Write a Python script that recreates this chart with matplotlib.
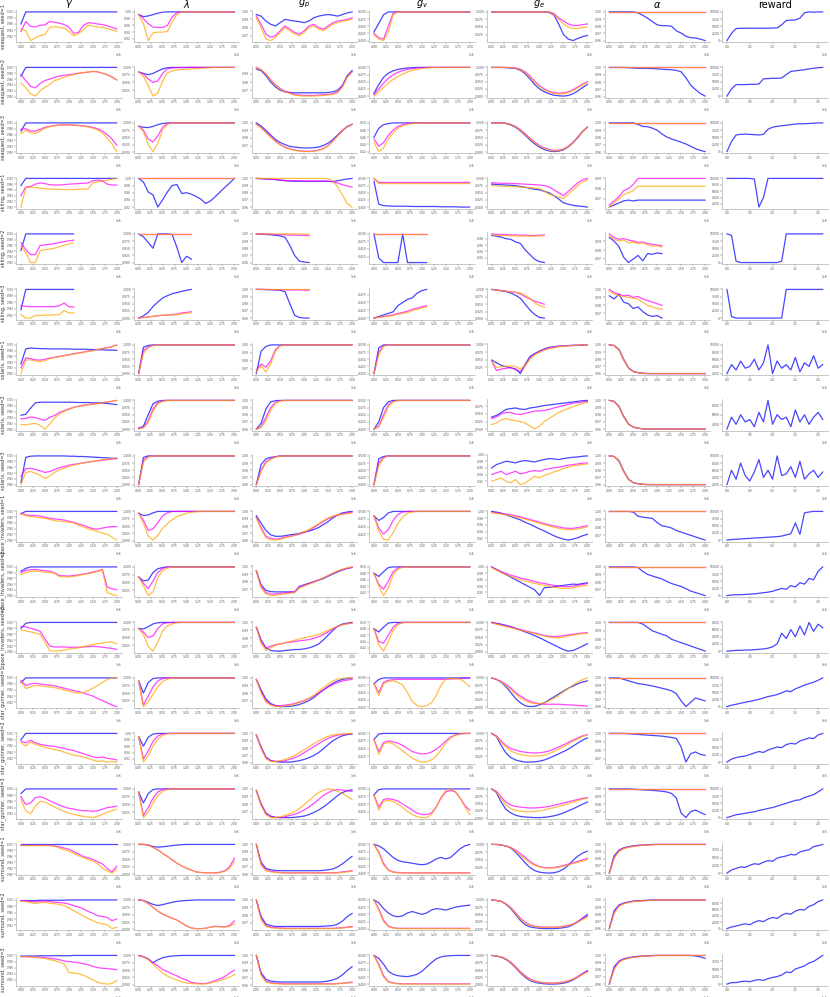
import matplotlib
matplotlib.use("Agg")
import matplotlib.pyplot as plt
from matplotlib.ticker import MultipleLocator

# training frames (x1e6) at which the curves were logged
FRAMES = [0.0, 0.1, 0.2, 0.3, 0.4, 0.5, 0.6, 0.7, 0.8, 0.9, 1.0,
          1.1, 1.2, 1.3, 1.4, 1.5, 1.6, 1.7, 1.8, 1.9, 2.0]
REWARD_FRAMES = FRAMES + [2.1]

ROW_LABELS = ["seaquest, seed=1", "seaquest, seed=2", "seaquest, seed=3",
              "skiing, seed=1", "skiing, seed=2", "skiing, seed=3",
              "solaris, seed=1", "solaris, seed=2", "solaris, seed=3",
              "space_invaders, seed=1", "space_invaders, seed=2", "space_invaders, seed=3",
              "star_gunner, seed=1", "star_gunner, seed=2", "star_gunner, seed=3",
              "surround, seed=1", "surround, seed=2", "surround, seed=3"]
COL_TITLES = [r"$\gamma$", r"$\lambda$", r"$g_p$", r"$g_v$", r"$g_e$", r"$\alpha$", "reward"]

# values in % of each panel's own range
GAMMA_B = [
    [60] + [100] * 20, [70] + [100] * 20, [72] + [100] * 20, [75] + [100] * 20,
    [42] + [100] * 11, [38] + [100] * 11,
    [34, 86, 89, 88, 87, 87, 86, 86, 86, 86, 86, 85, 85, 85, 84, 84, 83, 83, 82, 82, 81],
    [49, 52, 72, 90, 92, 92, 92, 92, 92, 92, 92, 92, 91, 91, 91, 90, 90, 89, 88, 86, 84],
    [7, 94, 98, 99, 99, 99, 99, 99, 99, 99, 98, 98, 97, 97, 96, 95, 94, 93, 92, 91, 90],
    [92] + [100] * 20, [85, 95] + [100] * 19, [80, 97] + [100] * 19,
    [85] + [100] * 20, [80] + [100] * 20, [85] + [100] * 20,
    [100] * 21,
    [98, 98, 98, 98, 99, 99, 99, 99, 99, 99] + [100] * 11,
    [98, 98, 98, 98, 99, 99, 99, 99, 99, 99, 99] + [100] * 10,
]
GAMMA_M = [
    [35, 68, 52, 50, 56, 57, 68, 66, 63, 58, 50, 29, 32, 55, 64, 63, 60, 58, 54, 49, 43],
    [75, 55, 35, 30, 45, 55, 60, 66, 70, 73, 75, 77, 80, 82, 84, 86, 85, 80, 75, 67, 57],
    [78, 80, 72, 72, 78, 85, 88, 91, 93, 93, 93, 92, 91, 90, 88, 85, 80, 72, 60, 45, 24],
    [40, 70, 72, 80, 84, 82, 78, 77, 77, 78, 80, 81, 82, 83, 84, 92, 94, 92, 80, 77, 77],
    [69, 45, 28, 28, 60, 62, 64, 66, 70, 73, 76, 78],
    [50, 48, 47, 47, 47, 47, 47, 47, 50, 58, 47, 46],
    [20, 55, 52, 48, 47, 50, 54, 57, 60, 63, 66, 69, 72, 75, 78, 81, 84, 87, 90, 94, 100],
    [37, 39, 43, 41, 36, 32, 42, 48, 58, 64, 70, 75, 79, 82, 84, 86, 88, 91, 93, 95, 98],
    [28, 55, 56, 52, 48, 42, 45, 52, 58, 62, 67, 70, 72, 75, 78, 80, 82, 84, 86, 88, 90],
    [94, 88, 86, 86, 84, 80, 76, 74, 72, 70, 66, 62, 56, 52, 45, 40, 38, 42, 45, 47, 47],
    [80, 88, 90, 91, 89, 87, 85, 80, 70, 69, 68, 70, 72, 75, 78, 82, 86, 91, 30, 24, 20],
    [86, 85, 80, 76, 70, 45, 20, 17, 17, 17, 16, 16, 16, 17, 18, 19, 18, 16, 14, 12, 9],
    [92, 75, 80, 82, 80, 78, 76, 74, 70, 66, 62, 58, 55, 50, 45, 40, 32, 25, 18, 10, 5],
    [75, 70, 78, 70, 65, 62, 60, 58, 55, 52, 48, 45, 40, 35, 30, 25, 22, 25, 20, 18, 15],
    [75, 50, 55, 72, 75, 70, 62, 55, 48, 42, 38, 35, 32, 30, 30, 28, 30, 35, 40, 42, 45],
    [97, 97, 97, 97, 97, 97, 97, 95, 92, 88, 84, 76, 68, 60, 55, 50, 42, 35, 20, 8, 27],
    [98, 97, 95, 94, 96, 96, 95, 93, 92, 90, 87, 82, 78, 72, 64, 58, 50, 48, 45, 35, 40],
    [96, 96, 96, 95, 94, 93, 91, 89, 86, 82, 80, 78, 76, 73, 70, 64, 60, 58, 57, 55, 53],
]
GAMMA_O = [
    [43, 38, 5, 14, 22, 25, 49, 51, 49, 46, 35, 21, 28, 40, 56, 53, 50, 49, 45, 40, 35],
    [46, 30, 10, 2, 20, 32, 42, 55, 60, 66, 72, 75, 80, 82, 84, 86, 85, 80, 75, 67, 57],
    [63, 75, 66, 64, 72, 82, 87, 90, 93, 94, 94, 93, 91, 89, 86, 82, 76, 66, 48, 28, 2],
    [0, 67, 69, 68, 66, 64, 63, 62, 62, 61, 61, 61, 62, 63, 63, 85, 88, 90, 94, 97, 100],
    [58, 35, 0, 0, 42, 45, 47, 50, 55, 60, 65, 69],
    [23, 12, 12, 20, 20, 21, 21, 22, 22, 35, 28, 28],
    [0, 47, 48, 43, 42, 45, 52, 56, 59, 62, 65, 68, 71, 74, 77, 80, 84, 87, 90, 94, 100],
    [18, 17, 20, 22, 15, 3, 20, 40, 52, 62, 68, 75, 78, 81, 83, 85, 88, 90, 93, 95, 98],
    [0, 42, 45, 40, 32, 21, 30, 42, 50, 56, 63, 67, 71, 74, 77, 80, 83, 86, 88, 90, 92],
    [92, 85, 82, 80, 78, 76, 72, 68, 66, 64, 63, 60, 52, 46, 40, 35, 30, 25, 20, 10, 0],
    [73, 80, 84, 86, 84, 82, 80, 78, 66, 66, 65, 67, 70, 73, 76, 80, 84, 90, 10, 4, 0],
    [74, 71, 68, 64, 59, 34, 4, 3, 4, 6, 10, 12, 14, 18, 22, 25, 28, 30, 33, 34, 28],
    [88, 65, 70, 75, 74, 72, 70, 68, 64, 60, 56, 52, 50, 52, 58, 66, 75, 85, 95, 100, 100],
    [70, 60, 72, 65, 60, 55, 52, 48, 45, 40, 35, 30, 28, 25, 20, 15, 10, 12, 8, 10, 8],
    [65, 30, 20, 45, 60, 58, 50, 42, 35, 28, 22, 18, 15, 12, 10, 8, 12, 18, 25, 30, 35],
    [96, 96, 96, 96, 96, 96, 96, 94, 88, 82, 78, 70, 62, 56, 50, 44, 36, 20, 12, 4, 17],
    [96, 95, 91, 89, 91, 92, 90, 88, 86, 82, 75, 66, 58, 50, 42, 35, 28, 25, 22, 10, 14],
    [96, 96, 95, 94, 92, 90, 86, 83, 78, 72, 45, 42, 40, 35, 28, 20, 12, 8, 6, 8, 18],
]

LAMBDA_B = [
    [92, 86, 88, 92, 96, 99] + [100] * 15,
    [85, 80, 76, 80, 88, 95, 99] + [100] * 14,
    [89, 85, 84, 88, 94, 98] + [100] * 15,
    [100, 90, 62, 54, 20, 40, 62, 80, 83, 58, 60, 56, 50, 42, 30, 37, 49, 62, 75, 87, 100],
    [100, 90, 70, 50, 100, 100, 100, 98, 53, 0, 22, 12],
    [0, 8, 20, 40, 56, 70, 78, 85, 89, 93, 97, 100],
    [0, 92, 98] + [100] * 18,
    [3, 10, 50, 88, 97] + [100] * 16,
    [0, 95] + [100] * 19,
    [94, 86, 88, 95] + [100] * 17,
    [68, 55, 58, 82, 94, 98] + [100] * 15,
    [80, 78, 86, 95, 99] + [100] * 16,
    [90, 50, 85, 98] + [100] * 17,
    [90, 60, 88, 98] + [100] * 17,
    [90, 55, 85, 98] + [100] * 17,
    [100, 100, 98, 93, 91, 92, 94, 96, 98, 99] + [100] * 11,
    [100, 98, 92, 85, 81, 84, 88, 92, 95, 97, 98, 99] + [100] * 9,
    [100, 95, 88, 75, 85, 92, 96, 98, 99] + [100] * 12,
]
LAMBDA_M = [
    [92, 80, 65, 55, 54, 54, 60, 85, 98] + [100] * 12,
    [85, 78, 62, 50, 55, 80, 95, 98, 99, 99] + [100] * 11,
    [89, 75, 45, 35, 55, 85, 98] + [100] * 14,
    [100] * 21,
    [100] * 12,
    [0, 2, 4, 6, 8, 10, 11, 12, 14, 18, 20, 22],
    [0, 80, 93, 99] + [100] * 17,
    [3, 5, 30, 70, 92, 98] + [100] * 15,
    [0, 85, 98] + [100] * 18,
    [94, 70, 35, 40, 62, 85, 95] + [100] * 14,
    [68, 48, 30, 55, 82, 95] + [100] * 15,
    [80, 68, 50, 55, 80, 95, 99] + [100] * 14,
    [90, 10, 40, 70, 90, 98] + [100] * 15,
    [90, 20, 45, 75, 92, 98] + [100] * 15,
    [90, 15, 40, 70, 90, 98] + [100] * 15,
    [100, 100, 99, 90, 82, 70, 60, 48, 37, 28, 20, 14, 8, 6, 5, 5, 5, 7, 12, 25, 54],
    [100, 98, 88, 75, 62, 52, 45, 38, 32, 22, 12, 5, 3, 3, 4, 8, 11, 10, 9, 14, 29],
    [100, 96, 88, 75, 65, 52, 45, 37, 30, 22, 16, 8, 5, 4, 4, 8, 14, 20, 28, 40, 50],
]
LAMBDA_O = [
    [92, 65, 15, 38, 40, 40, 42, 70, 92] + [100] * 12,
    [85, 70, 40, 5, 15, 55, 82, 88, 91, 93, 94, 95, 96, 97, 98, 99] + [100] * 5,
    [89, 70, 25, 2, 30, 75, 95] + [100] * 14,
    [100] * 21,
    [100] * 12,
    [0, 2, 4, 6, 8, 9, 10, 11, 12, 15, 17, 18],
    [0, 70, 90, 98] + [100] * 17,
    [0, 5, 22, 62, 88, 97] + [100] * 15,
    [0, 78, 96] + [100] * 18,
    [94, 60, 15, 2, 18, 42, 58, 72, 82, 88, 94, 97, 99] + [100] * 8,
    [68, 40, 8, 20, 65, 88, 96] + [100] * 14,
    [80, 60, 20, 5, 35, 72, 88, 95, 99] + [100] * 12,
    [90, 5, 20, 45, 70, 88, 96] + [100] * 14,
    [90, 10, 30, 60, 82, 94, 99] + [100] * 14,
    [90, 8, 25, 55, 78, 92, 98] + [100] * 14,
    [100, 100, 99, 90, 82, 70, 60, 48, 37, 28, 20, 14, 8, 6, 5, 5, 4, 6, 10, 20, 43],
    [100, 98, 88, 75, 62, 52, 45, 38, 32, 22, 12, 5, 3, 3, 4, 8, 10, 9, 8, 11, 19],
    [100, 95, 86, 70, 55, 40, 30, 22, 16, 10, 6, 4, 3, 2, 3, 6, 10, 14, 20, 26, 34],
]

GP_B = [
    [90, 85, 70, 60, 55, 65, 75, 72, 70, 68, 65, 70, 80, 85, 88, 90, 88, 85, 90, 95, 98],
    [90, 85, 70, 50, 35, 25, 20, 18, 17, 17, 17, 17, 17, 17, 17, 18, 20, 25, 40, 70, 85],
    [100, 90, 75, 60, 45, 35, 28, 22, 20, 18, 17, 17, 18, 20, 25, 33, 45, 60, 75, 88, 95],
    [100, 99, 98, 97, 96, 94, 92, 91, 90, 90, 90, 90, 90, 90, 90, 90, 89, 92, 95, 98, 100],
    [100, 99, 98, 97, 95, 93, 88, 60, 25, 5, 2, 0],
    [100, 100, 99, 99, 98, 97, 92, 50, 10, 2, 0, 0],
    [10, 80, 95] + [100] * 18,
    [0, 20, 70, 95, 99] + [100] * 16,
    [0, 70, 90, 95, 97] + [100] * 16,
    [85, 60, 35, 20, 15, 15, 17, 20, 22, 25, 30, 33, 38, 45, 55, 65, 78, 88, 95, 98, 100],
    [85, 40, 22, 18, 17, 17, 17, 17, 16, 35, 40, 45, 50, 55, 60, 68, 75, 82, 88, 93, 96],
    [85, 45, 20, 12, 10, 10, 12, 13, 15, 15, 17, 20, 25, 32, 45, 60, 75, 88, 95, 98, 100],
    [95, 60, 30, 15, 8, 5, 5, 6, 8, 12, 18, 25, 35, 48, 60, 72, 82, 90, 95, 98, 100],
    [95, 55, 20, 8, 5, 3, 3, 3, 5, 8, 12, 18, 25, 35, 48, 62, 75, 85, 92, 96, 98],
    [95, 50, 20, 10, 6, 5, 5, 5, 6, 8, 10, 15, 22, 30, 40, 52, 65, 78, 88, 94, 97],
    [100, 40, 20, 15, 13, 12, 12, 12, 12, 12, 12, 12, 12, 12, 13, 15, 18, 25, 35, 48, 60],
    [100, 45, 20, 15, 12, 12, 12, 12, 12, 12, 12, 12, 12, 12, 13, 14, 15, 20, 30, 45, 55],
    [100, 42, 20, 14, 12, 11, 11, 11, 11, 11, 11, 11, 11, 11, 12, 14, 18, 24, 35, 50, 62],
]
GP_M = [
    [85, 60, 30, 20, 25, 40, 55, 45, 35, 30, 40, 55, 60, 50, 45, 55, 65, 70, 72, 75, 80],
    [95, 88, 75, 57, 42, 30, 22, 17, 12, 10, 9, 9, 9, 10, 11, 12, 14, 20, 37, 67, 82],
    [95, 85, 70, 55, 40, 28, 20, 14, 10, 8, 6, 6, 7, 10, 15, 25, 40, 58, 75, 88, 95],
    [100, 99, 98, 97, 96, 94, 93, 92, 92, 92, 91, 91, 91, 91, 91, 90, 88, 84, 78, 73, 70],
    [100, 100, 99, 99, 98, 97, 97, 96, 96, 95, 95, 94],
    [100, 100, 100, 99, 99, 99, 99, 98, 98, 98, 97, 97],
    [20, 40, 30, 50, 85, 98] + [100] * 15,
    [0, 8, 40, 75, 93, 99] + [100] * 15,
    [0, 50, 80, 90, 97] + [100] * 16,
    [80, 45, 15, 8, 5, 8, 12, 15, 18, 22, 28, 35, 45, 55, 65, 75, 82, 88, 92, 95, 97],
    [85, 35, 15, 10, 10, 12, 14, 16, 18, 32, 38, 44, 50, 56, 62, 70, 77, 84, 90, 94, 97],
    [85, 40, 20, 25, 30, 33, 36, 38, 40, 42, 44, 46, 50, 55, 62, 70, 80, 88, 93, 96, 98],
    [95, 55, 25, 12, 8, 8, 10, 12, 15, 20, 25, 32, 40, 50, 60, 70, 78, 85, 90, 93, 95],
    [95, 50, 18, 8, 5, 5, 8, 12, 18, 25, 35, 45, 55, 65, 75, 83, 90, 94, 97, 98, 99],
    [95, 50, 18, 8, 5, 5, 8, 12, 16, 22, 30, 40, 52, 65, 78, 88, 95, 98, 96, 94, 92],
    [100, 35, 15, 10, 8, 6, 5, 5, 5, 5, 5, 5, 5, 5, 5, 5, 5, 6, 8, 10, 12],
    [100, 40, 15, 10, 8, 7, 6, 6, 6, 6, 6, 6, 6, 6, 6, 6, 6, 7, 8, 10, 12],
    [100, 38, 14, 9, 7, 6, 5, 5, 5, 5, 5, 5, 5, 5, 5, 5, 5, 6, 7, 9, 11],
]
GP_O = [
    [80, 50, 15, 10, 20, 35, 50, 40, 30, 25, 35, 50, 55, 45, 40, 50, 60, 65, 70, 72, 75],
    [95, 88, 75, 55, 40, 28, 20, 15, 10, 8, 7, 7, 7, 8, 9, 10, 12, 18, 35, 65, 80],
    [95, 84, 68, 53, 38, 27, 19, 13, 9, 7, 5, 5, 6, 9, 14, 24, 39, 57, 74, 87, 95],
    [100] * 15 + [99, 92, 70, 42, 12, 0],
    [100] * 10 + [99, 99],
    [100] * 12,
    [15, 35, 15, 40, 80, 97] + [100] * 15,
    [0, 5, 30, 65, 90, 98] + [100] * 15,
    [0, 45, 75, 88, 96, 99] + [100] * 15,
    [78, 40, 10, 3, 2, 5, 10, 14, 18, 24, 30, 38, 48, 58, 68, 78, 84, 88, 90, 92, 95],
    [85, 30, 10, 5, 6, 8, 10, 12, 15, 30, 36, 42, 48, 55, 62, 70, 78, 85, 90, 95, 98],
    [85, 35, 12, 20, 28, 32, 36, 40, 44, 48, 52, 55, 58, 62, 68, 75, 82, 88, 93, 96, 98],
    [95, 50, 20, 10, 5, 5, 7, 10, 13, 18, 24, 32, 42, 55, 68, 80, 90, 96, 99, 100, 100],
    [95, 50, 15, 5, 5, 8, 12, 18, 25, 35, 45, 55, 65, 75, 83, 90, 95, 97, 98, 99, 100],
    [95, 45, 15, 5, 5, 8, 12, 18, 25, 35, 48, 62, 75, 88, 96, 100, 98, 92, 85, 75, 65],
    [100, 30, 12, 8, 6, 5, 4, 4, 4, 4, 4, 4, 4, 4, 4, 4, 4, 5, 6, 8, 10],
    [100, 35, 12, 8, 6, 5, 5, 5, 5, 5, 5, 5, 5, 5, 5, 5, 5, 6, 7, 9, 10],
    [100, 33, 11, 7, 5, 4, 4, 4, 4, 4, 4, 4, 4, 4, 4, 4, 4, 5, 6, 8, 9],
]

GV_B = [
    [30, 60, 90] + [100] * 18,
    [10, 40, 65, 80, 88, 93, 96, 98, 99] + [100] * 12,
    [60, 85, 95, 98] + [100] * 17,
    [90, 10, 5, 4, 3, 3, 3, 3, 2, 2, 2, 2, 2, 2, 1, 1, 1, 1, 0, 0, 0],
    [100, 20, 5, 5, 5, 5, 100, 5, 5, 5, 5, 5],
    [0, 5, 10, 15, 20, 40, 50, 60, 65, 80, 88, 92],
    [0, 90] + [100] * 19,
    [0, 25, 75, 95] + [100] * 17,
    [0, 90, 98] + [100] * 18,
    [85, 70, 80, 95] + [100] * 17,
    [80, 70, 85, 98] + [100] * 17,
    [80, 70, 85, 98] + [100] * 17,
    [80, 95] + [100] * 19,
    [80, 98] + [100] * 19,
    [80, 98] + [100] * 19,
    [100, 95, 85, 70, 55, 45, 40, 38, 35, 32, 30, 32, 40, 50, 55, 50, 55, 70, 85, 95, 100],
    [100, 90, 70, 55, 45, 42, 45, 55, 60, 55, 50, 55, 65, 70, 68, 65, 70, 75, 78, 80, 82],
    [100, 90, 70, 45, 35, 30, 28, 27, 30, 35, 45, 60, 75, 88, 95, 98, 99, 100, 100, 100, 100],
]
GV_M = [
    [25, 10, 5, 50, 95] + [100] * 16,
    [5, 25, 45, 62, 74, 83, 89, 93, 96, 98, 99] + [100] * 10,
    [55, 35, 45, 65, 80, 90, 95, 98, 99] + [100] * 12,
    [100] + [86] * 20,
    [100] * 12,
    [0, 3, 5, 8, 10, 15, 18, 22, 28, 32, 36, 40],
    [0, 75, 97] + [100] * 18,
    [0, 10, 50, 85, 97] + [100] * 16,
    [0, 75, 95] + [100] * 18,
    [85, 45, 25, 40, 70, 90, 98] + [100] * 14,
    [80, 45, 30, 55, 85, 97] + [100] * 15,
    [80, 40, 35, 60, 85, 97] + [100] * 15,
    [80, 50, 85, 92, 94] + [95] * 11 + [96, 97, 98, 99, 100],
    [80, 40, 70, 75, 72, 68, 60, 50, 40, 35, 32, 33, 38, 48, 60, 75, 88, 95, 98, 100, 100],
    [80, 40, 65, 68, 65, 60, 50, 40, 30, 20, 15, 15, 20, 40, 70, 90, 95, 90, 70, 45, 30],
    [100, 75, 35, 12, 5, 3] + [2] * 15,
    [100, 70, 30, 10, 4] + [2] * 16,
    [100, 70, 30, 10, 5, 3] + [2] * 15,
]
GV_O = [
    [20, 5, 0, 30, 90] + [100] * 16,
    [0, 15, 30, 45, 58, 68, 77, 84, 89, 93, 96, 98, 99] + [100] * 8,
    [45, 20, 30, 55, 72, 85, 92, 96, 98, 99] + [100] * 11,
    [100] + [82] * 20,
    [100] * 12,
    [0, 2, 4, 6, 8, 12, 15, 18, 24, 28, 32, 36],
    [0, 65, 95] + [100] * 18,
    [0, 8, 40, 78, 95] + [100] * 16,
    [0, 65, 92] + [100] * 18,
    [85, 35, 8, 5, 30, 60, 82, 94, 98] + [100] * 12,
    [80, 40, 10, 35, 75, 93, 99] + [100] * 14,
    [80, 30, 10, 40, 75, 93, 99] + [100] * 14,
    [80, 40, 80, 88, 90, 85, 75, 50, 20, 5, 2, 5, 15, 40, 75, 95, 98, 98, 96, 85, 70],
    [80, 30, 65, 70, 65, 55, 42, 30, 18, 10, 5, 6, 12, 25, 45, 68, 85, 95, 99, 100, 100],
    [80, 30, 60, 62, 58, 50, 38, 25, 15, 8, 5, 5, 15, 40, 72, 95, 100, 92, 70, 40, 15],
    [100, 70, 30, 10, 4, 2] + [1] * 15,
    [100, 65, 25, 8, 3] + [1] * 16,
    [100, 65, 25, 8, 3, 2] + [1] * 15,
]

GE_B = [
    [100] * 12 + [98, 90, 60, 25, 10, 5, 12, 18, 22],
    [100, 100, 100, 99, 98, 96, 90, 78, 60, 40, 25, 15, 8, 3, 1, 0, 2, 8, 18, 30, 40],
    [100, 100, 100, 98, 93, 85, 73, 58, 42, 28, 17, 9, 4, 2, 3, 8, 18, 32, 50, 70, 85],
    [80, 79, 78, 77, 76, 75, 72, 69, 66, 62, 60, 55, 50, 40, 28, 15, 10, 6, 4, 2, 0],
    [90, 88, 85, 80, 78, 70, 65, 45, 30, 15, 8, 5],
    [100, 98, 95, 93, 88, 80, 70, 50, 30, 15, 5, 3],
    [49, 40, 32, 27, 24, 20, 5, 35, 60, 70, 78, 85, 90, 92, 94, 95, 96, 97, 97, 98, 98],
    [40, 45, 55, 65, 68, 70, 66, 65, 70, 72, 75, 78, 80, 82, 84, 86, 88, 90, 92, 94, 95],
    [60, 70, 75, 80, 78, 75, 80, 82, 80, 78, 82, 85, 88, 87, 85, 88, 90, 92, 93, 95, 96],
    [100, 98, 95, 90, 85, 80, 75, 68, 62, 55, 48, 42, 35, 28, 22, 18, 15, 18, 22, 28, 32],
    [100, 92, 84, 76, 68, 60, 52, 44, 36, 28, 10, 35, 36, 38, 40, 42, 44, 46, 45, 48, 50],
    [100, 97, 94, 90, 86, 80, 74, 68, 62, 55, 48, 40, 32, 24, 16, 8, 3, 5, 12, 20, 28],
    [100, 95, 85, 70, 50, 30, 15, 5, 2, 3, 8, 15, 25, 35, 45, 55, 65, 72, 80, 86, 90],
    [100, 90, 60, 35, 20, 12, 8, 5, 5, 6, 8, 12, 18, 25, 32, 40, 48, 58, 68, 78, 85],
    [100, 88, 55, 30, 18, 10, 6, 4, 3, 2, 2, 3, 5, 8, 12, 18, 25, 32, 40, 48, 55],
    [100, 100, 98, 95, 88, 75, 58, 40, 25, 15, 10, 8, 7, 8, 12, 20, 32, 48, 62, 72, 78],
    [100, 98, 95, 85, 70, 50, 30, 15, 8, 5, 3, 2, 2, 2, 3, 5, 8, 15, 25, 38, 50],
    [100, 98, 94, 86, 74, 58, 40, 25, 14, 8, 5, 3, 2, 2, 3, 5, 9, 16, 26, 38, 48],
]
GE_M = [
    [100] * 13 + [95, 80, 70, 60, 55, 55, 58, 60],
    [100, 100, 100, 100, 99, 98, 94, 85, 70, 52, 36, 25, 17, 12, 10, 11, 15, 22, 32, 42, 50],
    [100, 100, 100, 99, 95, 88, 77, 63, 48, 34, 23, 15, 9, 6, 7, 11, 20, 34, 52, 71, 86],
    [85, 84, 83, 83, 82, 82, 81, 80, 79, 78, 77, 75, 70, 60, 50, 40, 55, 70, 85, 95, 100],
    [95, 94, 93, 93, 92, 92, 91, 91, 90, 90, 91, 92],
    [100, 98, 96, 94, 92, 90, 85, 75, 68, 60, 55, 50],
    [46, 15, 20, 22, 24, 18, 12, 30, 55, 68, 76, 83, 88, 91, 93, 94, 95, 96, 97, 98, 98],
    [35, 40, 50, 55, 55, 50, 48, 52, 56, 60, 60, 62, 65, 70, 74, 78, 82, 86, 88, 90, 92],
    [40, 45, 50, 40, 45, 50, 42, 45, 50, 52, 50, 55, 58, 60, 62, 65, 68, 70, 72, 74, 75],
    [98, 96, 94, 92, 90, 87, 84, 80, 76, 72, 68, 64, 60, 57, 54, 51, 50, 50, 52, 55, 58],
    [100, 92, 85, 80, 74, 70, 65, 62, 58, 54, 50, 48, 45, 42, 40, 38, 38, 40, 42, 45, 48],
    [100, 96, 92, 88, 84, 80, 76, 72, 68, 64, 60, 56, 53, 52, 53, 55, 58, 60, 62, 64, 65],
    [100, 95, 88, 78, 65, 50, 38, 28, 20, 15, 12, 10, 10, 10, 10, 9, 8, 7, 6, 5, 4],
    [100, 92, 75, 60, 50, 45, 40, 38, 36, 35, 36, 38, 42, 48, 55, 62, 70, 78, 85, 92, 96],
    [100, 92, 72, 55, 45, 40, 38, 36, 35, 35, 36, 38, 40, 44, 48, 52, 56, 60, 64, 68, 70],
    [100, 100, 98, 95, 90, 82, 70, 58, 45, 35, 28, 25, 24, 25, 28, 32, 36, 40, 45, 50, 55],
    [100, 98, 95, 87, 74, 56, 38, 24, 15, 10, 8, 7, 7, 7, 8, 10, 13, 18, 26, 36, 45],
    [100, 98, 95, 88, 77, 62, 45, 31, 20, 13, 9, 7, 6, 6, 7, 9, 13, 19, 28, 38, 46],
]
GE_O = [
    [100] * 13 + [92, 75, 60, 50, 45, 45, 48, 50],
    [100, 100, 100, 100, 99, 97, 92, 82, 66, 48, 33, 22, 14, 9, 7, 8, 12, 19, 29, 39, 47],
    [100, 100, 100, 99, 94, 87, 75, 61, 46, 32, 21, 13, 7, 4, 5, 10, 19, 33, 51, 70, 85],
    [75, 74, 73, 72, 72, 71, 70, 69, 68, 66, 65, 55, 45, 40, 35, 30, 45, 60, 75, 88, 95],
    [92, 91, 90, 90, 89, 89, 88, 88, 88, 88, 89, 90],
    [100, 98, 96, 94, 92, 90, 88, 80, 70, 55, 45, 40],
    [46, 25, 27, 29, 30, 28, 20, 32, 52, 66, 74, 81, 86, 89, 92, 94, 95, 96, 97, 98, 98],
    [15, 20, 30, 35, 30, 28, 25, 20, 10, 0, 10, 25, 35, 45, 55, 62, 68, 74, 80, 85, 88],
    [20, 25, 30, 20, 15, 25, 10, 15, 25, 35, 30, 38, 42, 48, 52, 58, 62, 66, 68, 70, 72],
    [96, 94, 92, 90, 87, 84, 81, 77, 73, 69, 65, 61, 57, 53, 50, 47, 46, 46, 48, 51, 54],
    [98, 90, 82, 76, 70, 65, 60, 56, 52, 48, 45, 42, 40, 36, 34, 32, 33, 35, 38, 40, 42],
    [98, 94, 90, 86, 82, 78, 74, 70, 66, 62, 58, 54, 50, 48, 48, 50, 54, 57, 60, 62, 63],
    [100, 95, 86, 74, 60, 45, 32, 22, 15, 12, 12, 15, 22, 30, 40, 52, 64, 76, 86, 94, 100],
    [100, 90, 70, 55, 42, 35, 30, 27, 25, 25, 26, 28, 33, 40, 48, 56, 65, 74, 82, 90, 95],
    [100, 90, 65, 45, 33, 27, 24, 22, 22, 23, 25, 28, 32, 36, 40, 45, 50, 55, 60, 65, 68],
    [100, 100, 98, 95, 88, 78, 65, 52, 40, 32, 27, 24, 23, 24, 26, 30, 34, 38, 42, 46, 50],
    [100, 98, 95, 86, 72, 53, 35, 21, 13, 9, 7, 6, 6, 6, 7, 9, 12, 17, 24, 33, 42],
    [100, 98, 95, 87, 75, 59, 42, 28, 17, 11, 8, 6, 5, 5, 6, 8, 12, 18, 26, 35, 43],
]

ALPHA_B = [
    [100] * 6 + [97, 88, 78, 66, 55, 52, 52, 50, 34, 26, 15, 10, 9, 5, 0],
    [100, 100, 100, 100, 99, 98, 97, 97, 97, 96, 95, 94, 93, 92, 90, 85, 65, 40, 25, 12, 3],
    [100] * 6 + [95, 88, 87, 82, 75, 62, 52, 45, 40, 34, 28, 20, 12, 6, 2],
    [5, 10, 15, 20, 22, 20] + [22] * 15,
    [85, 75, 60, 30, 15, 25, 35, 20, 40, 38, 42, 40],
    [80, 70, 85, 60, 55, 40, 45, 30, 20, 15, 18, 10],
    [100, 98, 85, 50, 20, 8, 3, 1] + [0] * 13,
    [100, 97, 80, 45, 18, 7, 3, 1] + [0] * 13,
    [100, 98, 84, 48, 19, 7, 3, 1] + [0] * 13,
    [100] * 5 + [98, 85, 82, 80, 78, 65, 55, 52, 48, 40, 35, 30, 25, 20, 15, 10],
    [100] * 6 + [98, 85, 75, 70, 65, 60, 52, 45, 40, 35, 28, 20, 15, 10, 5],
    [100] * 7 + [95, 85, 75, 70, 65, 60, 50, 45, 40, 35, 30, 25, 20, 15],
    [100, 100, 100, 95, 90, 85, 80, 78, 75, 72, 68, 64, 60, 55, 45, 20, 0, 15, 30, 25, 20],
    [100, 100, 100, 100, 99, 98, 97, 96, 95, 94, 93, 92, 90, 88, 85, 60, 15, 40, 45, 38, 35],
    [100, 100, 100, 100, 100, 99, 98, 97, 96, 95, 94, 92, 90, 85, 70, 20, 5, 25, 30, 22, 15],
    [0, 60, 80, 88, 92, 95, 97, 98, 99] + [100] * 12,
    [0, 62, 82, 89, 93, 96, 97, 98, 99] + [100] * 12,
    [0, 60, 80, 88, 92, 95, 97, 98, 99] + [100] * 9 + [98, 95, 90],
]
ALPHA_M = [
    [100] * 21, [100] * 21, [100] * 21,
    [10, 20, 30, 45, 50, 60] + [75] * 15,
    [95, 85, 80, 82, 78, 75, 72, 72, 68, 66, 64, 62],
    [100, 90, 85, 80, 82, 75, 78, 70, 65, 60, 55, 50],
    [100, 98, 83, 48, 19, 7, 3, 1] + [0] * 13,
    [100, 96, 78, 43, 17, 7, 3, 1] + [0] * 13,
    [100, 98, 82, 46, 18, 7, 3, 1] + [0] * 13,
    [100] * 21, [100] * 21, [100] * 21, [100] * 21, [100] * 21, [100] * 21,
    [0, 55, 78, 87, 91, 94, 96, 97, 98, 99] + [100] * 11,
    [0, 57, 80, 88, 92, 95, 96, 97, 98, 99] + [100] * 11,
    [0, 55, 78, 87, 91, 94, 96, 97, 98, 99] + [100] * 11,
]
ALPHA_O = [
    [100] * 21, [100] * 21, [100] * 21,
    [5, 15, 25, 35, 40, 45] + [56] * 15,
    [90, 80, 75, 78, 70, 72, 68, 70, 65, 60, 62, 58],
    [95, 85, 80, 78, 75, 72, 70, 60, 50, 45, 40, 38],
    [100, 98, 84, 49, 19, 7, 3, 1] + [0] * 13,
    [100, 96, 79, 44, 17, 7, 3, 1] + [0] * 13,
    [100, 98, 83, 47, 18, 7, 3, 1] + [0] * 13,
    [100] * 21, [100] * 21, [100] * 21, [100] * 21, [100] * 21, [100] * 21,
    [0, 50, 75, 85, 90, 93, 95, 97, 98, 99] + [100] * 11,
    [0, 52, 77, 86, 91, 94, 95, 97, 98, 99] + [100] * 11,
    [0, 50, 75, 85, 90, 93, 95, 97, 98, 99] + [100] * 11,
]

REWARD = [
    [0, 25, 42, 43, 43, 43, 43, 43, 43, 43, 44, 44, 55, 70, 71, 72, 78, 97, 100, 99, 100, 100],
    [0, 25, 40, 40, 40, 41, 41, 42, 60, 61, 62, 62, 63, 75, 86, 88, 90, 92, 95, 97, 99, 100],
    [0, 35, 58, 60, 61, 60, 59, 58, 60, 78, 85, 88, 90, 92, 94, 96, 97, 97, 98, 99, 100, 100],
    [100, 100, 100, 100, 100, 100, 98, 10, 40] + [100] * 13,
    [100, 95, 5, 0, 0, 0, 0, 0, 0, 0, 0, 0, 5] + [100] * 9,
    [100, 5, 0, 0, 0, 0, 0, 0, 0, 0, 0, 0, 0] + [100] * 9,
    [20, 45, 30, 55, 35, 40, 60, 30, 50, 100, 20, 55, 35, 45, 30, 65, 25, 50, 40, 70, 35, 45],
    [30, 55, 40, 60, 45, 50, 35, 65, 45, 90, 40, 60, 50, 55, 35, 70, 45, 60, 40, 55, 65, 50],
    [20, 60, 35, 80, 45, 30, 55, 90, 40, 60, 35, 100, 45, 50, 70, 40, 85, 35, 50, 60, 40, 55],
    [0, 2, 3, 4, 5, 6, 7, 8, 9, 10, 11, 12, 14, 18, 22, 60, 20, 95, 98, 100, 100, 100],
    [0, 2, 3, 3, 4, 5, 6, 8, 10, 12, 15, 20, 25, 22, 35, 30, 45, 40, 60, 55, 85, 100],
    [0, 1, 2, 2, 3, 3, 4, 5, 6, 8, 12, 20, 50, 35, 60, 40, 70, 45, 80, 55, 75, 65],
    [0, 5, 8, 12, 15, 18, 22, 25, 30, 35, 38, 42, 48, 55, 52, 62, 68, 75, 80, 85, 92, 100],
    [0, 10, 15, 18, 20, 25, 30, 35, 32, 40, 45, 50, 48, 58, 62, 60, 70, 75, 80, 78, 90, 95],
    [0, 5, 10, 12, 15, 18, 20, 25, 28, 32, 35, 40, 45, 50, 55, 60, 62, 70, 75, 80, 90, 100],
    [0, 10, 15, 20, 18, 25, 30, 28, 35, 40, 38, 48, 52, 55, 60, 58, 68, 72, 75, 85, 88, 92],
    [0, 5, 8, 12, 15, 12, 20, 25, 22, 30, 35, 32, 42, 48, 45, 55, 60, 58, 70, 75, 85, 90],
    [0, 5, 5, 8, 10, 8, 12, 15, 12, 18, 22, 25, 30, 40, 38, 50, 55, 60, 70, 75, 85, 95],
]

# axis units for each hyperparameter column (0% -> low, 100% -> high)
UNITS = [(0.990, 1.000), (0.90, 1.00), (0.96, 1.00), (0.40, 0.50), (0.90, 1.00), (0.96, 1.00)]
PARAMS = [(GAMMA_B, GAMMA_M, GAMMA_O), (LAMBDA_B, LAMBDA_M, LAMBDA_O),
          (GP_B, GP_M, GP_O), (GV_B, GV_M, GV_O),
          (GE_B, GE_M, GE_O), (ALPHA_B, ALPHA_M, ALPHA_O)]
COLORS = ["#0000ff", "#ff00ff", "#ffa500"]

n_rows = len(ROW_LABELS)
fig, axes = plt.subplots(n_rows, 7, figsize=(8.3, 9.97), dpi=100)
fig.subplots_adjust(left=0.0195, right=0.997, top=0.9895, bottom=0.0115,
                    wspace=0.117, hspace=0.76)

for r in range(n_rows):
    for c in range(7):
        ax = axes[r, c]
        if c < 6:
            lo, hi = UNITS[c]
            for series, color in zip(PARAMS[c], COLORS):
                vals = series[r]
                x = [f * 1e6 for f in FRAMES[:len(vals)]]
                y = [lo + (hi - lo) * v / 100 for v in vals]
                ax.plot(x, y, color=color, lw=0.9, alpha=0.72)
            ax.set_xlim(-0.1e6, 2.1e6)
            ax.xaxis.set_major_locator(MultipleLocator(0.25e6))
        else:
            vals = REWARD[r]
            x = [f * 1e6 for f in REWARD_FRAMES[:len(vals)]]
            ax.plot(x, [v * 100 for v in vals], color=COLORS[0], lw=0.9, alpha=0.72)
            ax.set_xlim(-0.105e6, 2.205e6)
            ax.xaxis.set_major_locator(MultipleLocator(0.5e6))
        ax.ticklabel_format(axis="y", useOffset=False)
        for side in ("top", "right"):
            ax.spines[side].set_visible(False)
        for side in ("left", "bottom"):
            ax.spines[side].set_color("#b0b0b0")
            ax.spines[side].set_linewidth(0.5)
        ax.tick_params(labelsize=2.2, length=1.2, width=0.3, pad=0.8,
                       colors="#555555")
        ax.xaxis.get_offset_text().set_fontsize(2.2)
        ax.yaxis.get_offset_text().set_fontsize(2.2)
        if r == 0:
            ax.set_title(COL_TITLES[c], fontsize=7, pad=1.5)
        if c == 0:
            ax.tick_params(axis="y", labelsize=1.8, pad=0.5)
            ax.set_ylabel(ROW_LABELS[r], fontsize=3.6, color="#333333")
            ax.yaxis.set_label_coords(-0.1, 0.5)

fig.savefig("out.png", dpi=100)
